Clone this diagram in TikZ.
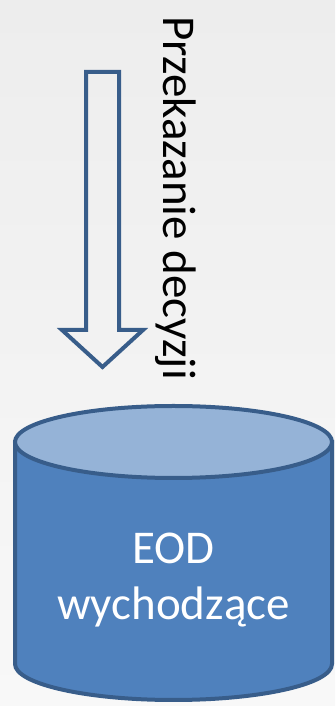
\documentclass[tikz,border=0pt]{standalone}
\usepackage{fontspec}
\setmainfont{Carlito}
\definecolor{dbfill}{HTML}{4F81BD}
\definecolor{dbtop}{HTML}{95B3D7}
\definecolor{dbline}{HTML}{385D8A}
\definecolor{bgtop}{HTML}{EDEDED}
\definecolor{bgbot}{HTML}{F8F8F8}
\begin{document}
\begin{tikzpicture}[x=1pt,y=1pt,
    dbtext/.style={text=white,font=\fontsize{47}{56}\selectfont,align=center},
    flowlabel/.style={font=\fontsize{47}{52}\selectfont,rotate=-90}]
    % background
    \shade[top color=bgtop,bottom color=bgbot] (0,0) rectangle (335,706);
    \useasboundingbox (0,0) rectangle (335,706);
    % hollow arrow
    \draw[dbline, line width=4, line join=miter, fill=white, fill opacity=0]
        (86,634) -- (119,634) -- (119,376) -- (143,376) -- (102.5,339)
        -- (62,376) -- (86,376) -- cycle;
    \node[flowlabel] (lbl) at (176,508) {Przekazanie decyzji};
    % database
    \filldraw[dbline, fill=dbfill, line width=4]
        (15,264) -- (15,42) arc[start angle=180,end angle=360,x radius=158.5,y radius=36]
        -- (332,264) -- cycle;
    \filldraw[dbline, fill=dbtop, line width=4] (173.5,264) ellipse[x radius=158.5,y radius=36];
    \node[dbtext] (eod) at (173.5,126) {EOD\\wychodzące};
\end{tikzpicture}
\end{document}
